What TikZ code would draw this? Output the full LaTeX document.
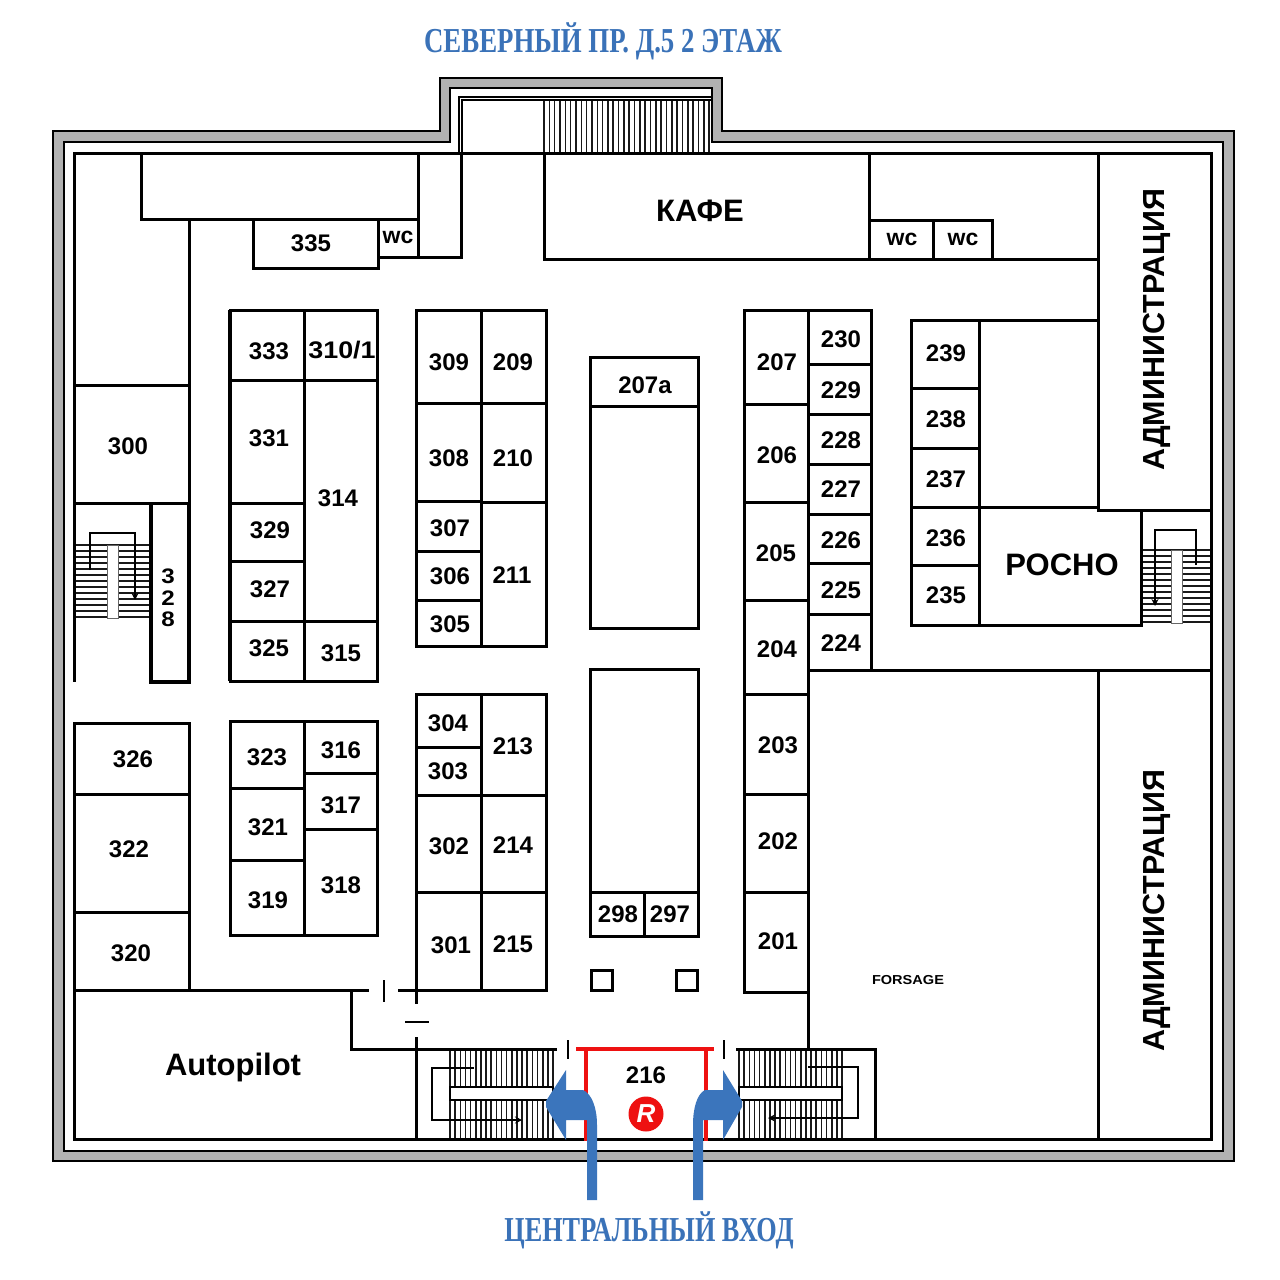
\documentclass[tikz,border=0pt]{standalone}
\usepackage{fontspec}
\usetikzlibrary{arrows.meta}
\setmainfont{Liberation Sans}
\newfontfamily\titlefont{Liberation Serif}
\definecolor{arrowblue}{HTML}{3B75BC}
\definecolor{titleblue}{HTML}{3A72B8}
\definecolor{wallgrey}{HTML}{B2B2B2}
\definecolor{logored}{HTML}{EE1111}
\tikzset{
  wall/.style={draw=black,line width=3pt,line cap=rect,line join=miter},
  hvy/.style={draw=black,line width=3.8pt,line cap=butt,line join=miter},
  fine/.style={draw=black,line width=1.2pt},
  tread/.style={draw=black!90,line width=1.6pt},
  flow/.style={draw=black,line width=2.4pt,line join=miter},
  redwall/.style={draw=logored,line width=3.6pt,line cap=rect},
  lbl/.style={inner sep=0pt,font=\bfseries\fontsize{24}{24}\selectfont},
  wclbl/.style={inner sep=0pt,font=\bfseries\fontsize{23}{23}\selectfont},
  big/.style={inner sep=0pt,font=\bfseries\fontsize{31}{31}\selectfont},
  admin/.style={inner sep=0pt,rotate=90,font=\bfseries\fontsize{30.5}{31}\selectfont},
  banner/.style={inner sep=0pt,anchor=base,text=titleblue,font=\titlefont\bfseries\fontsize{35}{35}\selectfont},
}
\begin{document}
\begin{tikzpicture}[x=1pt,y=-1pt]
\useasboundingbox (0,0) rectangle (1280,1280);
\fill[white] (0,0) rectangle (1280,1280);
% outer double wall
\filldraw[fill=wallgrey,draw=black,line width=2.4pt,line join=miter]
  (53,131)--(440,131)--(440,78)--(722,78)--(722,131)--(1234,131)--(1234,1161)--(53,1161)--cycle;
\filldraw[fill=white,draw=black,line width=2.4pt,line join=miter]
  (64,142)--(450,142)--(450,88)--(712,88)--(712,142)--(1223,142)--(1223,1151)--(64,1151)--cycle;
% north stair
\foreach \i in {0,...,31} \draw[tread] ({544+5.33*\i},100)--({544+5.33*\i},153);
\draw[fine] (459,153)--(459,97)--(712,97);
\draw[fine] (462,153)--(462,100)--(712,100);
% treads west stair
\foreach \i in {0,...,12} \draw[tread] (74,{545+6*\i})--(151,{545+6*\i});
\filldraw[fill=white,draw=black!60,line width=.8pt] (107,545) rectangle (118,618);
% treads east stair
\foreach \i in {0,...,12} \draw[tread] (1141,{550+6*\i})--(1211,{550+6*\i});
\filldraw[fill=white,draw=black!60,line width=.8pt] (1171,550) rectangle (1182,623);
% treads south stairs
\foreach \i in {0,...,20} {
  \draw[tread] ({450+5.15*\i},1050)--({450+5.15*\i},1139);
  \draw[tread] ({739+5.15*\i},1050)--({739+5.15*\i},1139);
}
\filldraw[fill=white,draw=black,line width=1.2pt] (450,1087) rectangle (553,1100);
\filldraw[fill=white,draw=black,line width=1.2pt] (739,1087) rectangle (842,1100);
% perimeter
\draw[wall] (74,680)--(74,153)--(1211,153)--(1211,670);
\draw[wall] (1211,670)--(1211,1139)--(74,1139)--(74,723);
% north-west rooms
\draw[wall] (141,153)--(141,219)--(418,219)--(418,257);
\draw[wall] (418,153)--(418,219);
\draw[wall] (189,219)--(189,503);
\draw[hvy] (189,503)--(189,682)--(151,682)--(151,503);
\draw[wall] (74,385)--(189,385);
\draw[wall] (74,503)--(189,503);
\draw[wall] (253,219)--(253,268)--(378,268)--(378,219);
\draw[wall] (378,257)--(461,257)--(461,153);
% cafe and wc
\draw[wall] (544,153)--(544,259)--(1098,259);
\draw[wall] (869,153)--(869,259);
\draw[wall] (869,220)--(992,220)--(992,259);
\draw[wall] (933,220)--(933,259);
% administration, east block
\draw[wall] (1098,153)--(1098,510)--(1211,510);
\draw[wall] (1098,670)--(1098,1139);
\draw[wall] (809,670)--(1211,670);
\draw[wall] (911,320)--(1098,320);
\draw[wall] (911,320)--(911,625)--(1141,625)--(1141,510);
\draw[wall] (979,320)--(979,625);
\draw[wall] (979,507)--(1098,507);
\foreach \y in {388,448,507,565} \draw[wall] (911,\y)--(979,\y);
% block 333
\draw[wall] (230,310) rectangle (377,681);
\draw[hvy] (230,310)--(230,681);
\draw[wall] (304,310)--(304,681);
\foreach \y in {380,503,561,621} \draw[wall] (230,\y)--(304,\y);
\draw[wall] (304,380)--(377,380);
\draw[wall] (304,621)--(377,621);
% block 323
\draw[wall] (230,721) rectangle (377,935);
\draw[wall] (304,721)--(304,935);
\foreach \y in {788,860} \draw[wall] (230,\y)--(304,\y);
\foreach \y in {773,829} \draw[wall] (304,\y)--(377,\y);
% south-west rooms
\draw[wall] (74,723)--(189,723)--(189,990);
\foreach \y in {794,912} \draw[wall] (74,\y)--(189,\y);
\draw[wall] (74,990)--(367,990);
\draw[wall] (351,990)--(351,1049)--(555,1049);
% block 309
\draw[wall] (416,310) rectangle (546,646);
\draw[wall] (481,310)--(481,646);
\foreach \y in {403,501,551,600} \draw[wall] (416,\y)--(481,\y);
\foreach \y in {403,502} \draw[wall] (481,\y)--(546,\y);
% block 304
\draw[wall] (416,694) rectangle (546,990);
\draw[wall] (481,694)--(481,990);
\foreach \y in {747,795,892} \draw[wall] (416,\y)--(481,\y);
\foreach \y in {795,892} \draw[wall] (481,\y)--(546,\y);
\draw[wall] (399,990)--(416,990);
\draw[wall] (416,990)--(416,1002);
\draw[wall] (416,1038)--(416,1139);
% door marks
\draw[fine,line width=1.5pt] (384,980)--(384,1002);
\draw[fine,line width=1.5pt] (405,1022)--(429,1022);
\draw[fine,line width=1.5pt] (568,1040)--(568,1059);
\draw[fine,line width=1.5pt] (724,1040)--(724,1059);
% centre blocks
\draw[wall] (590,357) rectangle (698,628);
\draw[wall] (590,406)--(698,406);
\draw[wall] (590,669) rectangle (698,936);
\draw[wall] (590,892)--(698,892);
\draw[wall] (644,892)--(644,936);
\draw[wall] (591,970) rectangle (612,990);
\draw[wall] (676,970) rectangle (697,990);
% block 207
\draw[wall] (744,992)--(744,310)--(871,310)--(871,670);
\draw[wall] (808,310)--(808,1049);
\draw[wall] (744,992)--(808,992);
\foreach \y in {404,502,600,694,794,892} \draw[wall] (744,\y)--(808,\y);
\foreach \y in {364,414,464,514,563,614} \draw[wall] (808,\y)--(871,\y);
% south-east stair wall
\draw[wall] (737,1049)--(875,1049)--(875,1139);
% flow lines in stairs
\draw[flow,-{Stealth[length=7pt,width=7pt]}] (90,570)--(90,533)--(135,533)--(135,600);
\draw[flow,-{Stealth[length=7pt,width=7pt]}] (1196,565)--(1196,530)--(1155,530)--(1155,606);
\draw[flow,-{Stealth[length=7pt,width=7pt]}] (474,1068)--(432,1068)--(432,1120)--(522,1120);
\draw[flow,-{Stealth[length=7pt,width=7pt]}] (808,1067)--(858,1067)--(858,1118)--(768,1118);
% red room 216
\draw[redwall] (578,1049)--(712,1049);
\draw[redwall] (586,1049)--(586,1139);
\draw[redwall] (706,1049)--(706,1139);
% blue entrance arrows
\fill[arrowblue] (587,1200)--(587,1120)--(566,1120)--(566,1140)--(546,1107)--(546,1101)--(566,1070)--(566,1090)--(583,1090)
  .. controls (592,1094) and (597,1108) .. (597,1125)--(597,1200)--cycle;
\fill[arrowblue] (703,1200)--(703,1120)--(723,1120)--(723,1140)--(742,1107)--(742,1101)--(723,1070)--(723,1090)--(705,1090)
  .. controls (697,1094) and (693,1108) .. (693,1125)--(693,1200)--cycle;
% labels
\node[banner,xscale=.767] (title) at (603,52) {СЕВЕРНЫЙ ПР. Д.5 2 ЭТАЖ};
\node[banner,xscale=.75] (entrance) at (649,1241) {ЦЕНТРАЛЬНЫЙ ВХОД};
\node[big] (cafe) at (700,211) {КАФЕ};
\node[big] (rosno) at (1062,565) {РОСНО};
\node[big] (autopilot) at (233,1067) {Autopilot};
\node[admin] (adm1) at (1157,330) {АДМИНИСТРАЦИЯ};
\node[admin] (adm2) at (1157,911) {АДМИНИСТРАЦИЯ};
\node[inner sep=0pt,xscale=1.12,font=\bfseries\fontsize{13}{13}\selectfont] (forsage) at (908,980) {FORSAGE};
\node[wclbl] (wc1) at (398,237) {wc};
\node[wclbl] (wc2) at (902,239) {wc};
\node[wclbl] (wc3) at (963,239) {wc};
\node[lbl] (r335) at (311,243) {335};
\node[lbl] (r333) at (269,351) {333};
\node[lbl,xscale=1.12] (r3101) at (342,350) {310/1};
\node[lbl] (r331) at (269,438) {331};
\node[lbl] (r314) at (338,498) {314};
\node[lbl] (r329) at (270,530) {329};
\node[lbl] (r327) at (270,589) {327};
\node[lbl] (r325) at (269,648) {325};
\node[lbl] (r315) at (341,653) {315};
\node[lbl] (r300) at (128,446) {300};
\node[lbl,align=center,xscale=1.15,font=\bfseries\fontsize{21}{21.5}\selectfont] (r328) at (168,598) {3\\2\\8};
\node[lbl] (r309) at (449,362) {309};
\node[lbl] (r209) at (513,362) {209};
\node[lbl] (r308) at (449,458) {308};
\node[lbl] (r210) at (513,458) {210};
\node[lbl] (r307) at (450,528) {307};
\node[lbl] (r306) at (450,576) {306};
\node[lbl] (r305) at (450,624) {305};
\node[lbl] (r211) at (512,575) {211};
\node[lbl] (r304) at (448,723) {304};
\node[lbl] (r303) at (448,771) {303};
\node[lbl] (r213) at (513,746) {213};
\node[lbl] (r302) at (449,846) {302};
\node[lbl] (r214) at (513,845) {214};
\node[lbl] (r301) at (451,945) {301};
\node[lbl] (r215) at (513,944) {215};
\node[lbl] (r207a) at (645,385) {207a};
\node[lbl] (r298) at (618,914) {298};
\node[lbl] (r297) at (670,914) {297};
\node[lbl] (r207) at (777,362) {207};
\node[lbl] (r206) at (777,455) {206};
\node[lbl] (r205) at (776,553) {205};
\node[lbl] (r204) at (777,649) {204};
\node[lbl] (r203) at (778,745) {203};
\node[lbl] (r202) at (778,841) {202};
\node[lbl] (r201) at (778,941) {201};
\node[lbl] (r230) at (841,339) {230};
\node[lbl] (r229) at (841,390) {229};
\node[lbl] (r228) at (841,440) {228};
\node[lbl] (r227) at (841,489) {227};
\node[lbl] (r226) at (841,540) {226};
\node[lbl] (r225) at (841,590) {225};
\node[lbl] (r224) at (841,643) {224};
\node[lbl] (r239) at (946,353) {239};
\node[lbl] (r238) at (946,419) {238};
\node[lbl] (r237) at (946,479) {237};
\node[lbl] (r236) at (946,538) {236};
\node[lbl] (r235) at (946,595) {235};
\node[lbl] (r326) at (133,759) {326};
\node[lbl] (r322) at (129,849) {322};
\node[lbl] (r320) at (131,953) {320};
\node[lbl] (r323) at (267,757) {323};
\node[lbl] (r316) at (341,750) {316};
\node[lbl] (r321) at (268,827) {321};
\node[lbl] (r317) at (341,805) {317};
\node[lbl] (r319) at (268,900) {319};
\node[lbl] (r318) at (341,885) {318};
\node[lbl] (r216) at (646,1075) {216};
\node[circle,fill=logored,minimum size=35pt,inner sep=0pt,text=white,font=\bfseries\itshape\fontsize{26}{26}\selectfont] (logo) at (646,1114) {R};
\end{tikzpicture}
\end{document}
